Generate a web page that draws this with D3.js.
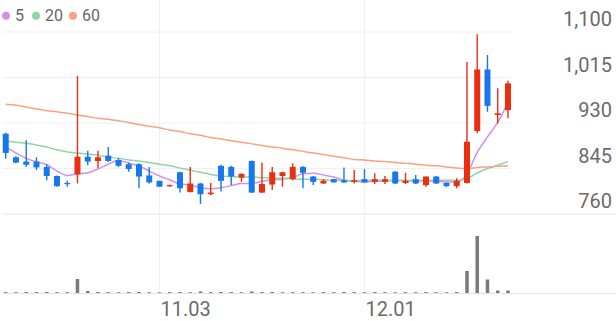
<!DOCTYPE html>
<html>
<head>
<meta charset="utf-8">
<script src="https://cdn.jsdelivr.net/npm/d3@7"></script>
<style>
  body { margin: 0; background: #fff; }
  svg { display: block; font-family: Roboto, sans-serif; }
</style>
</head>
<body>
<svg width="616" height="321"></svg>
<script>
const days = ["10.13","10.14","10.15","10.16","10.17","10.20","10.21","10.22","10.23","10.24",
  "10.27","10.28","10.29","10.30","10.31","11.03","11.04","11.05","11.06","11.07",
  "11.10","11.11","11.12","11.13","11.14","11.17","11.18","11.19","11.20","11.21",
  "11.24","11.25","11.26","11.27","11.28","12.01","12.02","12.03","12.04","12.05",
  "12.08","12.09","12.10","12.11","12.12","12.15","12.16","12.17","12.18","12.19"];

const open  = [910,866,858,858,848,831,818,834,867,859,869,861,853,853,832,822,812,838,801,817,
  797,850,848,828,859,800,815,831,825,848,830,817,825,823,820,825,820,820,839,818,
  825,814,830,818,812,818,915,1030,945,954];
const high  = [912,868,898,866,853,832,822,1018,878,878,885,864,856,855,848,822,815,839,848,818,
  818,852,850,836,860,856,848,839,855,849,831,825,826,847,842,844,836,831,840,837,
  833,830,831,819,827,1044,1096,1057,995,1009];
const low   = [863,855,848,842,823,811,811,817,851,846,857,848,839,808,817,811,811,800,800,779,
  795,802,814,820,799,799,805,811,823,808,814,816,819,818,817,819,816,816,816,816,
  816,811,816,810,808,817,911,951,929,939];
const close = [874,856,852,847,831,812,817,867,858,866,859,850,844,830,819,811,814,808,817,797,
  800,822,830,835,800,816,838,838,848,837,820,822,819,819,823,819,825,825,817,822,
  817,830,817,812,822,895,1030,962,948,1004];
const volume = [90,80,100,90,100,80,90,1400,200,100,90,80,90,100,80,70,90,100,80,150,
  90,100,90,80,150,90,100,80,90,80,70,90,80,100,90,80,90,80,70,90,
  80,90,80,70,100,2200,5700,1350,250,250];

// moving averages
const ma5  = [885,874,864,857,852,840,832,835,837,844,853,860,855,850,840,831,824,816,814,809,
  807,809,813,817,817,821,824,825,828,835,836,833,829,823,821,820,821,822,822,822,
  821,822,821,820,820,835,875,904,931,968];
const ma20 = [897,894,892,889,885,880,876,874,872,870,866,864,861,859,856,853,850,846,842,838,
  834,831,830,829,829,828,827,827,826,825,825,824,823,823,822,823,823,823,823,823,
  823,823,823,823,823,826,837,845,851,858];
const ma60 = [965,963,960,956,953,951,948,945,942,939,937,934,931,927,924,921,917,914,910,907,
  903,900,897,894,891,888,885,883,880,877,874,871,868,865,862,861,859,858,856,855,
  853,851,850,848,846,845,847,848,849,850];

const priceTicks = [760, 845, 930, 1015, 1100];
const dateTicks = ["11.03", "12.01"];
const maNames = ["5", "20", "60"];
const maColors = ["#d48fea", "#8fd6a3", "#f8a280"];

const up = "#eb2d10", down = "#1677ee", gridColor = "#f0f0f0";

const svg = d3.select("svg");

const x = d3.scaleBand().domain(days).range([0.6, 513.1]).padding(0);
const cx = d => x(d) + x.bandwidth() / 2;
const y = d3.scaleLinear().domain([760, 1100]).range([214, 32]);
const yVol = d3.scaleLinear().domain([0, 5700]).range([293, 236]);

// grid
svg.append("g")
  .selectAll("line")
  .data(priceTicks.filter(d => d !== 760))
  .join("line")
  .attr("x1", 3).attr("x2", 511)
  .attr("y1", d => y(d)).attr("y2", d => y(d))
  .attr("stroke", gridColor);

svg.append("g")
  .selectAll("line")
  .data(dateTicks)
  .join("line")
  .attr("x1", d => cx(d)).attr("x2", d => cx(d))
  .attr("y1", 0).attr("y2", 293)
  .attr("stroke", gridColor);

svg.append("line")
  .attr("x1", 3).attr("x2", 616)
  .attr("y1", y(760)).attr("y2", y(760))
  .attr("stroke", "#e6e6e6");

svg.append("line")
  .attr("x1", 3).attr("x2", 616)
  .attr("y1", 293.5).attr("y2", 293.5)
  .attr("stroke", "#e2e2e2");

// axes
const yAxis = svg.append("g")
  .attr("transform", "translate(612,-6.5)")
  .call(d3.axisLeft(y).tickValues(priceTicks).tickSize(0).tickPadding(0).tickFormat(d3.format(",")));
yAxis.select(".domain").remove();
yAxis.selectAll("text")
  .attr("dy", 0)
  .attr("font-size", 20)
  .attr("font-family", "Roboto, sans-serif")
  .attr("fill", "#6b6b6b");

const xAxis = svg.append("g")
  .attr("transform", "translate(0,316)")
  .call(d3.axisBottom(x).tickValues(dateTicks).tickSize(0).tickPadding(0));
xAxis.select(".domain").remove();
xAxis.selectAll("text")
  .attr("y", 0).attr("dy", 0).attr("x", 1)
  .attr("text-anchor", "start")
  .attr("font-size", 20)
  .attr("font-family", "Roboto, sans-serif")
  .attr("fill", "#6b6b6b");

// moving averages
[ma5, ma20, ma60].forEach((ma, k) => {
  const line = d3.line()
    .x((d, i) => cx(days[i]))
    .y(d => y(d))
    .curve(d3.curveMonotoneX);
  svg.append("path")
    .attr("d", line(ma))
    .attr("fill", "none")
    .attr("stroke", maColors[k])
    .attr("stroke-width", 1.5);
});

// candles
const candles = svg.append("g")
  .selectAll("g")
  .data(days)
  .join("g")
  .attr("fill", (d, i) => close[i] >= open[i] ? up : down)
  .attr("stroke", (d, i) => close[i] >= open[i] ? up : down);

candles.append("line")
  .attr("x1", d => cx(d)).attr("x2", d => cx(d))
  .attr("y1", (d, i) => y(high[i]))
  .attr("y2", (d, i) => y(low[i]))
  .attr("stroke-width", 1.4);

candles.append("rect")
  .attr("stroke", "none")
  .attr("x", d => cx(d) - 3)
  .attr("width", 6)
  .attr("y", (d, i) => y(Math.max(open[i], close[i])))
  .attr("height", (d, i) => Math.max(1.2, Math.abs(y(open[i]) - y(close[i]))));

// volume
svg.append("g")
  .selectAll("rect")
  .data(days)
  .join("rect")
  .attr("x", d => cx(d) - 1.75)
  .attr("width", 3.5)
  .attr("y", (d, i) => yVol(volume[i]))
  .attr("height", (d, i) => 293 - yVol(volume[i]))
  .attr("fill", "#7a7a7a");

// legend
const legend = svg.append("g")
  .selectAll("g")
  .data(maNames)
  .join("g")
  .attr("transform", (d, i) => `translate(${[6, 36, 73][i]},0)`);

legend.append("circle")
  .attr("cy", 15.7)
  .attr("r", 4)
  .attr("fill", (d, i) => maColors[i]);

legend.append("text")
  .attr("x", 9)
  .attr("y", 21.3)
  .attr("font-size", 16)
  .attr("fill", "#666")
  .text(d => d);
</script>
</body>
</html>
